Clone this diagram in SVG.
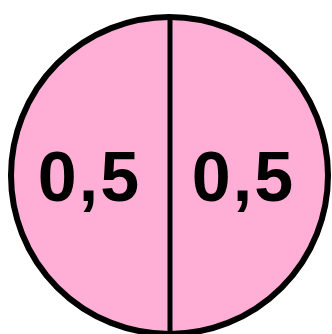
<svg xmlns="http://www.w3.org/2000/svg" width="332" height="334" viewBox="0 0 332 334">
<style>
.lbl{font-family:"Liberation Sans",Arial,sans-serif;font-weight:bold;font-size:70px;fill:#000;text-anchor:middle;letter-spacing:2px}
</style>
<rect width="332" height="334" fill="#fff"/>
<g id="circle">
<circle cx="169.5" cy="175.5" r="158.5" fill="#ffaed6" stroke="#000" stroke-width="6"/>
</g>
<g id="connectors">
<line x1="170" y1="16" x2="170" y2="334" stroke="#000" stroke-width="5"/>
</g>
<g id="left"><text class="lbl" x="89.5" y="201">0,5</text></g>
<g id="right"><text class="lbl" x="243.5" y="201">0,5</text></g>
</svg>
